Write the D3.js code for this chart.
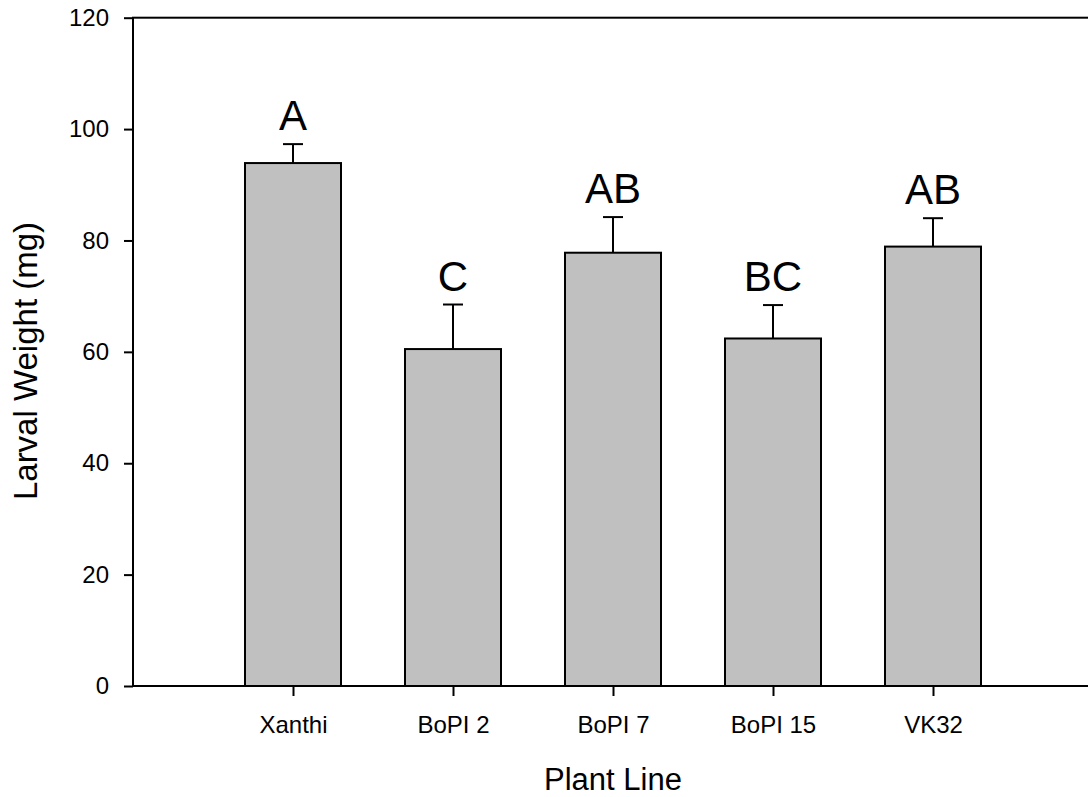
<!DOCTYPE html>
<html>
<head>
<meta charset="utf-8">
<script src="https://cdn.jsdelivr.net/npm/d3@7"></script>
<style>
  body { margin: 0; background: #fff; }
  svg { display: block; font-family: "Liberation Sans", Arial, sans-serif; }
</style>
</head>
<body>
<div class="container"></div>
<script>
var lines = ["Xanthi", "BoPI 2", "BoPI 7", "BoPI 15", "VK32"];
var weights = [93.9, 60.5, 77.8, 62.4, 78.9];
var errors = [3.4, 8.0, 6.4, 6.0, 5.1];
var letters = ["A", "C", "AB", "BC", "AB"];
var yTicks = [0, 20, 40, 60, 80, 100, 120];

var W = 1088, H = 797;
var margin = {top: 17.7, left: 133, bottom: 111};

var svg = d3.select('.container')
  .append('svg')
  .attr('width', W)
  .attr('height', H);

// x positions 1..5 on a 0..6 axis, right edge falls off the picture
var xScale = d3.scaleLinear()
  .domain([0, 6])
  .range([margin.left, margin.left + 960]);

var yScale = d3.scaleLinear()
  .domain([0, 120])
  .range([H - margin.bottom, margin.top]);

var barW = xScale(0.6) - xScale(0);

/* ===== BARS ===== */
var group = svg.selectAll('g.bar')
  .data(lines)
  .enter()
  .append('g')
  .attr('class', 'bar');

group.append('rect')
  .attr('x', function(d, i) { return xScale(i + 1) - barW / 2; })
  .attr('y', function(d, i) { return yScale(weights[i]); })
  .attr('width', barW)
  .attr('height', function(d, i) { return yScale(0) - yScale(weights[i]); })
  .attr('fill', '#c0c0c0')
  .attr('stroke', '#000')
  .attr('stroke-width', 2);

// error bars (upper only)
group.append('line')
  .attr('x1', function(d, i) { return xScale(i + 1); })
  .attr('x2', function(d, i) { return xScale(i + 1); })
  .attr('y1', function(d, i) { return yScale(weights[i]); })
  .attr('y2', function(d, i) { return yScale(weights[i] + errors[i]); })
  .attr('stroke', '#000')
  .attr('stroke-width', 2);

group.append('line')
  .attr('x1', function(d, i) { return xScale(i + 1) - 10; })
  .attr('x2', function(d, i) { return xScale(i + 1) + 10; })
  .attr('y1', function(d, i) { return yScale(weights[i] + errors[i]); })
  .attr('y2', function(d, i) { return yScale(weights[i] + errors[i]); })
  .attr('stroke', '#000')
  .attr('stroke-width', 2);

group.append('text')
  .attr('x', function(d, i) { return xScale(i + 1); })
  .attr('y', function(d, i) { return yScale(weights[i] + errors[i]) - 14; })
  .attr('text-anchor', 'middle')
  .attr('font-size', '42px')
  .text(function(d, i) { return letters[i]; });

/* ===== AXES ===== */
var yAxis = d3.axisLeft(yScale)
  .tickValues(yTicks)
  .tickSize(9)
  .tickPadding(15);

var gy = svg.append('g')
  .attr('transform', 'translate(' + margin.left + ',0)')
  .call(yAxis);
gy.selectAll('text').style('font-size', '24px').attr('fill', '#000');

var xAxis = d3.axisBottom(xScale)
  .tickValues([1, 2, 3, 4, 5])
  .tickFormat(function(d) { return lines[d - 1]; })
  .tickSize(10)
  .tickPadding(20);

var gx = svg.append('g')
  .attr('transform', 'translate(0,' + yScale(0) + ')')
  .call(xAxis);
gx.selectAll('text').style('font-size', '24px').attr('fill', '#000');

svg.selectAll('.domain').remove();
svg.selectAll('.tick line').attr('stroke', '#000').attr('stroke-width', 2);

// plot frame
svg.append('rect')
  .attr('x', xScale(0))
  .attr('y', yScale(120))
  .attr('width', xScale(6) - xScale(0))
  .attr('height', yScale(0) - yScale(120))
  .attr('fill', 'none')
  .attr('stroke', '#000')
  .attr('stroke-width', 2);

/* ===== LABELS ===== */
svg.append('text')
  .attr('x', (xScale(0) + xScale(6)) / 2)
  .attr('y', 790)
  .attr('text-anchor', 'middle')
  .attr('font-size', '31px')
  .text('Plant Line');

svg.append('text')
  .attr('transform', 'translate(37,361) rotate(-90)')
  .attr('text-anchor', 'middle')
  .attr('font-size', '33px')
  .text('Larval Weight (mg)');
</script>
</body>
</html>
